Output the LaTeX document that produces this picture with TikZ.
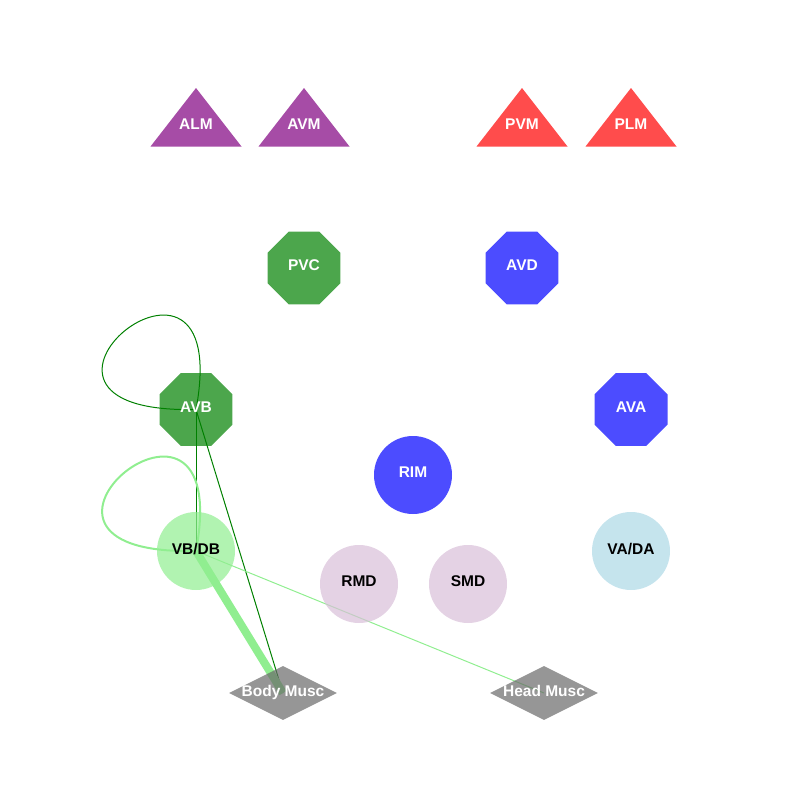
\documentclass[tikz,border=0pt]{standalone}
\usepackage{fontspec}
\setmainfont{Liberation Sans}
\usetikzlibrary{shapes.geometric, calc}
\usetikzlibrary{positioning}
\pgfdeclarelayer{background}
\pgfsetlayers{background,main}

\definecolor{webpurple}{RGB}{128,0,128}
\definecolor{webgreen}{RGB}{0,128,0}
\definecolor{lightgreen}{RGB}{144,238,144}
\definecolor{lightblue}{RGB}{173,216,230}
\definecolor{thistle}{RGB}{216,191,216}
\definecolor{dimgray}{RGB}{105,105,105}

\begin{document}
\begin{tikzpicture}[x=1pt,y=-1pt,
    lbl/.style={font=\bfseries\fontsize{15.5}{18}\selectfont, text opacity=1},
    octo/.style={regular polygon, regular polygon sides=8, minimum size=79pt, inner sep=0pt, text depth=5pt, fill opacity=0.7, text=white, lbl},
    circ/.style={circle, minimum size=78pt, inner sep=0pt, text depth=5pt, fill opacity=0.7, lbl},
    musc/.style={diamond, aspect=2, minimum width=108pt, minimum height=54pt, inner sep=-2.5pt, text depth=5pt, fill=dimgray, fill opacity=0.7, text=white, lbl},
    tri/.style={fill opacity=0.7}]

    \useasboundingbox (0,0) rectangle (800,800);

    % sensory neurons
    \fill[tri, webpurple] (196,88) -- (241.5,146.5) -- (150.5,146.5) -- cycle;
    \fill[tri, webpurple] (304,88) -- (349.5,146.5) -- (258.5,146.5) -- cycle;
    \fill[tri, red] (522,88) -- (567.5,146.5) -- (476.5,146.5) -- cycle;
    \fill[tri, red] (631,88) -- (676.5,146.5) -- (585.5,146.5) -- cycle;
    \node(alm) at (196,124.5) [lbl, text=white]{ALM};
    \node(avm) at (304,124.5) [lbl, text=white]{AVM};
    \node(pvm) at (522,124.5) [lbl, text=white]{PVM};
    \node(plm) at (631,124.5) [lbl, text=white]{PLM};

    % interneurons
    \node(pvc) at (304,268) [octo, fill=webgreen]{PVC};
    \node(avd) at (522,268) [octo, fill=blue]{AVD};
    \node(avb) at (196,409.5) [octo, fill=webgreen]{AVB};
    \node(ava) at (631,409.5) [octo, fill=blue]{AVA};
    \node(rim) at (413,475) [circ, fill=blue, text=white]{RIM};

    % motor neurons
    \node(vbdb) at (196,551) [circ, fill=lightgreen]{VB/DB};
    \node(vada) at (631,551) [circ, fill=lightblue]{VA/DA};
    \node(rmd) at (359,584) [circ, fill=thistle]{RMD};
    \node(smd) at (468,584) [circ, fill=thistle]{SMD};

    % muscles
    \node(body) at (283,693) [musc]{Body Musc};
    \node(head) at (544,693) [musc]{Head Musc};

    \begin{pgfonlayer}{background}
    \draw[webgreen, line width=1pt] (avb.center) .. controls +(-230,5) and +(40,-215) .. (avb.center);
    \draw[webgreen, line width=1pt] (avb.center) -- (vbdb.center);
    \draw[webgreen, line width=1pt] (avb.center) -- (body.center);
    \draw[lightgreen, line width=2pt] (vbdb.center) .. controls +(-230,5) and +(40,-215) .. (vbdb.center);
    \draw[lightgreen, line width=8pt] (vbdb.center) -- (body.center);
    \draw[lightgreen, line width=1pt] (vbdb.center) -- (head.center);
    \end{pgfonlayer}

\end{tikzpicture}
\end{document}
